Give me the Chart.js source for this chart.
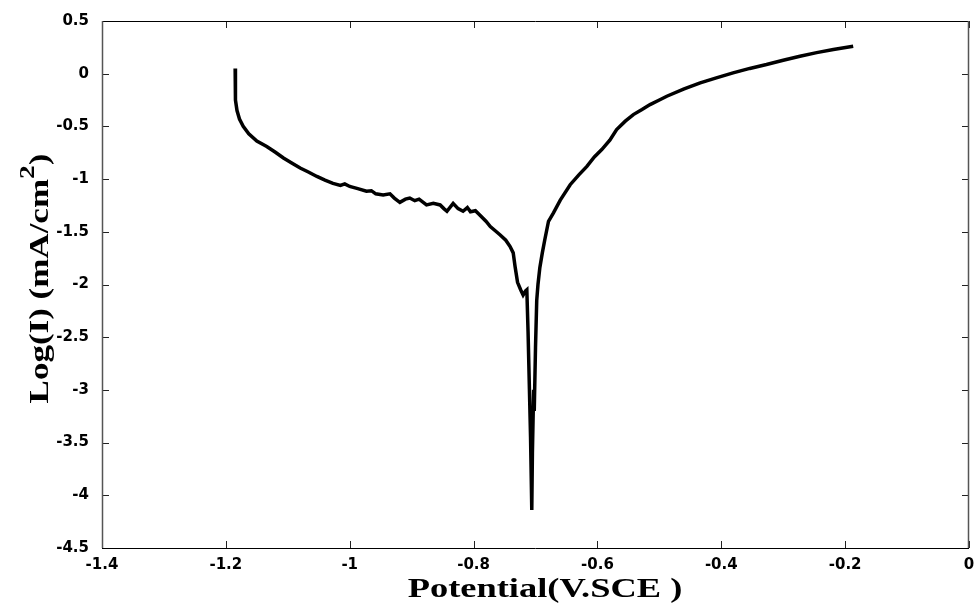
<!DOCTYPE html>
<html>
<head>
<meta charset="utf-8">
<script src="https://cdn.jsdelivr.net/npm/chart.js@4/dist/chart.umd.min.js"></script>
<style>
  html, body { margin: 0; padding: 0; background: #fff; }
  canvas { display: block; }
</style>
</head>
<body>
<canvas id="myChart" width="975" height="603"></canvas>
<script>
// Polarization curve
const potential = [
  -1.185, -1.185, -1.184, -1.182, -1.178, -1.172, -1.163, -1.150, -1.134, -1.120,
  -1.107, -1.093, -1.080, -1.066, -1.053, -1.040, -1.027, -1.015, -1.008, -1.000,
  -0.987, -0.973, -0.965, -0.958, -0.946, -0.935, -0.928, -0.919, -0.910, -0.903,
  -0.895, -0.888, -0.876, -0.865, -0.854, -0.848, -0.843, -0.833, -0.825, -0.817,
  -0.810, -0.805, -0.797, -0.790, -0.780, -0.773, -0.765, -0.757, -0.748, -0.741,
  -0.736, -0.733, -0.729, -0.724, -0.720, -0.716, -0.714, -0.712, -0.710, -0.708,
  -0.706, -0.705, -0.703, -0.702, -0.700, -0.698, -0.696, -0.693, -0.689, -0.685,
  -0.679, -0.671, -0.660, -0.644, -0.630, -0.617, -0.605, -0.593, -0.580, -0.569,
  -0.555, -0.542, -0.528, -0.515, -0.500, -0.488, -0.460, -0.434, -0.408, -0.381,
  -0.354, -0.327, -0.300, -0.273, -0.246, -0.219, -0.187
];
const logCurrent = [
  0.05, -0.10, -0.25, -0.35, -0.43, -0.50, -0.57, -0.64, -0.69, -0.745,
  -0.80, -0.85, -0.895, -0.935, -0.975, -1.01, -1.04, -1.06, -1.045, -1.07,
  -1.09, -1.115, -1.11, -1.14, -1.15, -1.14, -1.18, -1.22, -1.19, -1.18,
  -1.205, -1.19, -1.245, -1.23, -1.245, -1.28, -1.305, -1.23, -1.28, -1.305,
  -1.27, -1.31, -1.30, -1.34, -1.40, -1.45, -1.49, -1.53, -1.58, -1.64,
  -1.70, -1.83, -1.98, -2.05, -2.10, -2.06, -2.05, -2.45, -2.95, -3.45,
  -4.14, -3.6, -3.0, -3.2, -2.6, -2.15, -2.0, -1.84, -1.70, -1.575,
  -1.40, -1.32, -1.20, -1.053, -0.96, -0.879, -0.79, -0.72, -0.63, -0.53,
  -0.45, -0.388, -0.34, -0.293, -0.25, -0.214, -0.145, -0.087, -0.04, 0.008,
  0.05, 0.087, 0.128, 0.166, 0.20, 0.229, 0.261
];

const xTicks = [-1.4, -1.2, -1, -0.8, -0.6, -0.4, -0.2, 0];
const yTicks = [0.5, 0, -0.5, -1, -1.5, -2, -2.5, -3, -3.5, -4, -4.5];

const xTitle = 'Potential(V.SCE )';
const yTitle = ['Log(I) (mA/cm', '2', ')'];

const points = potential.map((v, i) => ({ x: v, y: logCurrent[i] }));

const tickFont = { family: '"DejaVu Sans", sans-serif', size: 15, weight: 'bold' };

// box round the plot, with ticks pointing inside on all four sides
const frame = {
  id: 'frame',
  afterDraw(chart) {
    const { ctx, chartArea: a, scales } = chart;
    ctx.save();
    ctx.lineWidth = 1;
    ctx.strokeStyle = '#222';
    xTicks.forEach(v => {
      const px = Math.round(scales.x.getPixelForValue(v)) + 0.5;
      ctx.beginPath();
      ctx.moveTo(px, a.bottom); ctx.lineTo(px, a.bottom - 7);
      ctx.moveTo(px, a.top); ctx.lineTo(px, a.top + 7);
      ctx.stroke();
    });
    yTicks.forEach(v => {
      const py = Math.round(scales.y.getPixelForValue(v)) + 0.5;
      ctx.beginPath();
      ctx.moveTo(a.left, py); ctx.lineTo(a.left + 7, py);
      ctx.moveTo(a.right, py); ctx.lineTo(a.right - 7, py);
      ctx.stroke();
    });
    ctx.strokeStyle = '#000';
    ctx.beginPath();
    ctx.moveTo(a.left, a.top + 0.5); ctx.lineTo(a.right, a.top + 0.5);
    ctx.moveTo(a.left, a.bottom + 0.5); ctx.lineTo(a.right, a.bottom + 0.5);
    ctx.stroke();
    ctx.strokeStyle = '#555';
    ctx.lineWidth = 1.5;
    ctx.beginPath();
    ctx.moveTo(a.left + 0.5, a.top); ctx.lineTo(a.left + 0.5, a.bottom);
    ctx.moveTo(a.right - 0.5, a.top); ctx.lineTo(a.right - 0.5, a.bottom);
    ctx.stroke();
    ctx.restore();
  }
};

// axis titles, bold serif, a little wide like the original
const titles = {
  id: 'titles',
  afterDraw(chart) {
    const { ctx, chartArea: a } = chart;
    ctx.save();
    ctx.fillStyle = '#000';
    ctx.textBaseline = 'alphabetic';
    ctx.textAlign = 'center';
    ctx.font = 'bold 27px "Liberation Serif", serif';
    ctx.translate(545, 597);
    ctx.scale(1.35, 1);
    ctx.fillText(xTitle, 0, 0);
    ctx.restore();

    ctx.save();
    ctx.fillStyle = '#000';
    ctx.textBaseline = 'alphabetic';
    ctx.translate(48, (a.top + a.bottom) / 2 - 6);
    ctx.rotate(-Math.PI / 2);
    ctx.scale(1.25, 1);
    const big = 'bold 28px "Liberation Serif", serif';
    const small = 'bold 22px "Liberation Serif", serif';
    ctx.font = big;
    const w0 = ctx.measureText(yTitle[0]).width;
    const w2 = ctx.measureText(yTitle[2]).width;
    ctx.font = small;
    const w1 = ctx.measureText(yTitle[1]).width;
    let x = -(w0 + w1 + w2) / 2;
    ctx.font = big;
    ctx.fillText(yTitle[0], x, 0);
    x += w0;
    ctx.font = small;
    ctx.fillText(yTitle[1], x, -14);
    x += w1;
    ctx.font = big;
    ctx.fillText(yTitle[2], x, 0);
    ctx.restore();
  }
};

const ctx = document.getElementById('myChart').getContext('2d');
const chart = new Chart(ctx, {
  type: 'line',
  data: {
    datasets: [{
      data: points,
      borderColor: '#000',
      borderWidth: 3.5,
      pointRadius: 0,
      tension: 0,
      fill: false
    }]
  },
  options: {
    responsive: false,
    animation: false,
    devicePixelRatio: 1,
    layout: { padding: { top: 21, right: 6, left: 0, bottom: 0 } },
    plugins: {
      legend: { display: false },
      tooltip: { enabled: false }
    },
    scales: {
      x: {
        type: 'linear',
        position: 'bottom',
        min: -1.4,
        max: 0,
        grid: { display: false },
        border: { display: false },
        afterBuildTicks: s => { s.ticks = xTicks.map(v => ({ value: v })); },
        afterFit: s => { s.height = 55; },
        ticks: {
          font: tickFont,
          color: '#000',
          padding: 0,
          maxRotation: 0,
          autoSkip: false,
          callback: v => String(Number(v.toFixed(1)))
        }
      },
      y: {
        type: 'linear',
        min: -4.5,
        max: 0.5,
        grid: { display: false },
        border: { display: false },
        afterBuildTicks: s => { s.ticks = yTicks.map(v => ({ value: v })); },
        afterFit: s => { s.width = 102; },
        ticks: {
          font: tickFont,
          color: '#000',
          padding: 5,
          autoSkip: false,
          callback: v => String(Number(v.toFixed(1)))
        }
      }
    }
  },
  plugins: [frame, titles]
});
</script>
</body>
</html>
